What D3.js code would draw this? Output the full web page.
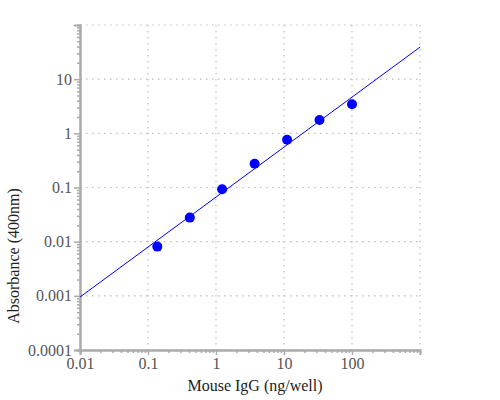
<!DOCTYPE html>
<html>
<head>
<meta charset="utf-8">
<script src="https://cdn.jsdelivr.net/npm/d3@7"></script>
<style>
  body { margin: 0; background: #fff; }
  svg { display: block; }
</style>
</head>
<body>
<div id="chart"></div>
<script>
// 数据
var conc = [0.137, 0.412, 1.23, 3.7, 11.1, 33.3, 100]
var absorb = [0.0081, 0.0278, 0.093, 0.275, 0.764, 1.76, 3.44]
// 拟合直线两端
var fitX = [0.01, 1000]
var fitY = [0.00095, 39]
// 刻度
var xTicks = [0.01, 0.1, 1, 10, 100]
var xGrid = [0.01, 0.1, 1, 10, 100, 1000]
var yTicks = [0.0001, 0.001, 0.01, 0.1, 1, 10]
var yGrid = [0.0001, 0.001, 0.01, 0.1, 1, 10, 100]

function drawChart() {
  var width = 500
  var height = 400
  var margin = { top: 25, right: 80, bottom: 50, left: 80 }
  var font = '"Liberation Serif", "Times New Roman", serif'

  var svg = d3.select('#chart').append('svg').attr('width', width).attr('height', height)

  var x = d3.scaleLog().domain([0.01, 1000]).range([margin.left, width - margin.right])
  var y = d3.scaleLog().domain([0.0001, 100]).range([height - margin.bottom, margin.top])

  // 网格
  var grid = svg.append('g')
  grid.selectAll('.vg').data(xGrid).enter().append('line')
    .attr('x1', function(d) { return x(d) }).attr('x2', function(d) { return x(d) })
    .attr('y1', y(100)).attr('y2', y(0.0001))
    .attr('stroke', '#bbb').attr('stroke-width', 1.2).attr('stroke-dasharray', '1.5,4.5')
  grid.selectAll('.hg').data(yGrid).enter().append('line')
    .attr('y1', function(d) { return y(d) }).attr('y2', function(d) { return y(d) })
    .attr('x1', x(0.01)).attr('x2', x(1000))
    .attr('stroke', '#bbb').attr('stroke-width', 1.2).attr('stroke-dasharray', '1.5,4.5')

  // 次刻度
  var xMinor = x.ticks().filter(function(d) { return xGrid.indexOf(d) < 0 })
  var yMinor = y.ticks().filter(function(d) { return yGrid.indexOf(d) < 0 })

  // x轴
  var gx = svg.append('g').attr('transform', 'translate(0,' + y(0.0001) + ')')
  gx.call(d3.axisBottom(x).tickValues(xMinor).tickSize(3).tickFormat(''))
  gx.call(function(g) {
    g.append('g').call(d3.axisBottom(x).tickValues(xTicks).tickSize(5).tickPadding(3)
      .tickFormat(function(d) { return String(d) }))
  })
  gx.selectAll('.domain').attr('stroke', '#aaa').attr('stroke-width', 2)
  gx.selectAll('.tick line').attr('stroke', '#aaa').attr('stroke-width', 1.5)
  gx.selectAll('text').attr('fill', '#555').attr('font-size', 16).attr('font-family', font)

  // y轴
  var gy = svg.append('g').attr('transform', 'translate(' + x(0.01) + ',0)')
  gy.call(d3.axisLeft(y).tickValues(yMinor).tickSize(3).tickFormat(''))
  gy.call(function(g) {
    g.append('g').call(d3.axisLeft(y).tickValues(yTicks).tickSize(6).tickPadding(2)
      .tickFormat(function(d) { return String(d) }))
  })
  gy.selectAll('.domain').attr('stroke', '#aaa').attr('stroke-width', 2)
  gy.selectAll('.tick line').attr('stroke', '#aaa').attr('stroke-width', 1.5)
  gy.selectAll('text').attr('fill', '#555').attr('font-size', 16).attr('font-family', font)

  // 拟合线
  var line = d3.line().x(function(d) { return x(d[0]) }).y(function(d) { return y(d[1]) })
  svg.append('path').datum(d3.zip(fitX, fitY))
    .attr('d', line).attr('fill', 'none').attr('stroke', '#0000ff').attr('stroke-width', 1)

  // 数据点
  svg.selectAll('circle').data(d3.zip(conc, absorb)).enter().append('circle')
    .attr('cx', function(d) { return x(d[0]) })
    .attr('cy', function(d) { return y(d[1]) })
    .attr('r', 5)
    .attr('fill', '#0000ff')

  // 轴标题
  svg.append('text').text('Mouse IgG (ng/well)')
    .attr('x', 255).attr('y', 391)
    .attr('text-anchor', 'middle').attr('font-size', 16).attr('font-family', font).attr('fill', '#222')
  svg.append('text').text('Absorbance (400nm)')
    .attr('transform', 'translate(19,256) rotate(-90)')
    .attr('text-anchor', 'middle').attr('font-size', 16).attr('font-family', font).attr('fill', '#222')
}

drawChart()
</script>
</body>
</html>
